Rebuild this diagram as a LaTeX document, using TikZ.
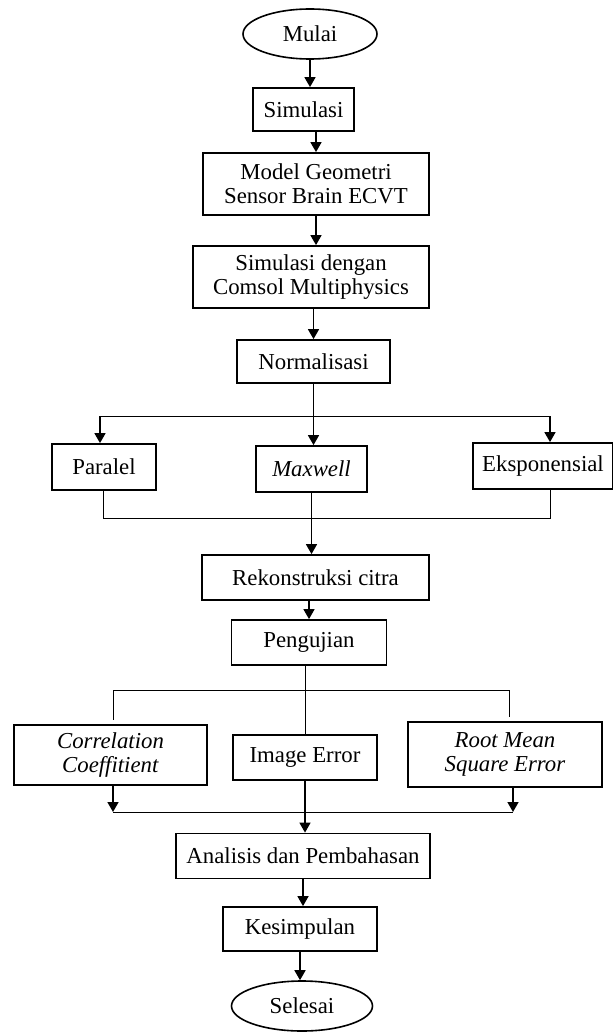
\documentclass[tikz,border=0pt]{standalone}
\usepackage{fontspec}
\setmainfont{Liberation Serif}
\usetikzlibrary{arrows.meta,shapes.geometric}

\tikzset{
  kotak/.style={draw, line width=0.9pt, align=center, inner sep=2pt, font=\fontsize{11.4}{11.8}\selectfont},
  oval/.style={ellipse, draw, line width=0.8pt, inner sep=1pt, font=\fontsize{11.4}{11.8}\selectfont},
  panah/.style={line width=0.8pt, -{Triangle[width=5.5pt,length=5pt]}},
  garis/.style={line width=0.5pt}
}

\begin{document}
\begin{tikzpicture}[x=0.5pt, y=-0.5pt]
    \useasboundingbox (0,0) rectangle (613,1032);

    % Mulai dan simulasi
    \node[oval, minimum width=67pt, minimum height=25pt] (mulai) at (310,34) {Mulai};
    \node[kotak, minimum width=50.5pt, minimum height=21.5pt] (simulasi) at (303.5,109.5) {Simulasi};
    \node[kotak, minimum width=113pt, minimum height=31pt] (model) at (316,184) {Model Geometri\\Sensor Brain ECVT};
    \node[kotak, minimum width=118pt, minimum height=31pt] (comsol) at (311,277) {Simulasi dengan\\Comsol Multiphysics};
    \node[kotak, minimum width=76.5pt, minimum height=21.5pt] (normal) at (313.5,361.5) {Normalisasi};

    \draw[panah] (mulai.south) -- (mulai.south |- simulasi.north);
    \draw[panah] (model.north |- simulasi.south) -- (model.north);
    \draw[panah] (model.south) -- (model.south |- comsol.north);
    \draw[panah] (normal.north |- comsol.south) -- (normal.north);

    % Metode rekonstruksi
    \node[kotak, minimum width=52pt, minimum height=23pt] (paralel) at (104,467) {Paralel};
    \node[kotak, minimum width=55.5pt, minimum height=23pt] (maxwell) at (311.5,469) {\textit{Maxwell}};
    \node[kotak, minimum width=70pt, minimum height=23pt] (ekspo) at (543,466) {Eksponensial};

    \coordinate (cabA) at (100,416);
    \coordinate (cabB) at (550,416);
    \draw[garis] (normal.south) -- (normal.south |- cabA);
    \draw[garis] (cabA) -- (cabB);
    \draw[panah] (cabA) -- (cabA |- paralel.north);
    \draw[panah] (normal.south |- cabA) -- (normal.south |- maxwell.north);
    \draw[panah] (cabB) -- (cabB |- ekspo.north);

    \coordinate (gabA) at (103,518);
    \coordinate (gabB) at (550,518);
    \draw[garis] (gabA |- paralel.south) -- (gabA) -- (gabB) -- (gabB |- ekspo.south);
    \draw[garis] (maxwell.south) -- (maxwell.south |- gabA);

    % Rekonstruksi dan pengujian
    \node[kotak, minimum width=113.5pt, minimum height=22.5pt] (rekon) at (315.5,577.5) {Rekonstruksi citra};
    \node[kotak, minimum width=77.5pt, minimum height=22.5pt] (uji) at (309,642.5) {Pengujian};

    \draw[panah] (maxwell.south |- gabA) -- (maxwell.south |- rekon.north);
    \draw[panah] (uji.north |- rekon.south) -- (uji.north);

    % Parameter pengujian
    \node[kotak, minimum width=96.5pt, minimum height=30pt] (corr) at (110.5,755) {\textit{Correlation}\\\textit{Coeffitient}};
    \node[kotak, minimum width=72pt, minimum height=22.5pt] (imgerr) at (305,757.5) {Image Error};
    \node[kotak, minimum width=97pt, minimum height=32.5pt] (rmse) at (505,754.5) {\textit{Root Mean}\\\textit{Square Error}};

    \coordinate (cabC) at (113,690);
    \coordinate (cabD) at (509,690);
    \draw[garis] (imgerr.north |- uji.south) -- (imgerr.north);
    \draw[garis] (cabC) -- (cabD);
    \draw[garis, shorten >=2pt] (cabC) -- (cabC |- corr.north);
    \draw[garis, shorten >=2pt] (cabD) -- (cabD |- rmse.north);

    % Analisis dan akhir
    \node[kotak, minimum width=127pt, minimum height=22.5pt] (analisis) at (303,856) {Analisis dan Pembahasan};
    \node[kotak, minimum width=77pt, minimum height=22pt] (simpul) at (300,929) {Kesimpulan};
    \node[oval, minimum width=70.5pt, minimum height=25pt] (selesai) at (302,1006) {Selesai};

    \coordinate (gabC) at (113,812);
    \coordinate (gabD) at (513,812);
    \draw[panah] (gabC |- corr.south) -- (gabC);
    \draw[panah] (gabD |- rmse.south) -- (gabD);
    \draw[garis] (gabC) -- (gabD);
    \draw[panah] (imgerr.south) -- (imgerr.south |- analisis.north);
    \draw[panah] (analisis.south) -- (analisis.south |- simpul.north);
    \draw[panah] (simpul.south) -- (simpul.south |- selesai.north);
\end{tikzpicture}
\end{document}
